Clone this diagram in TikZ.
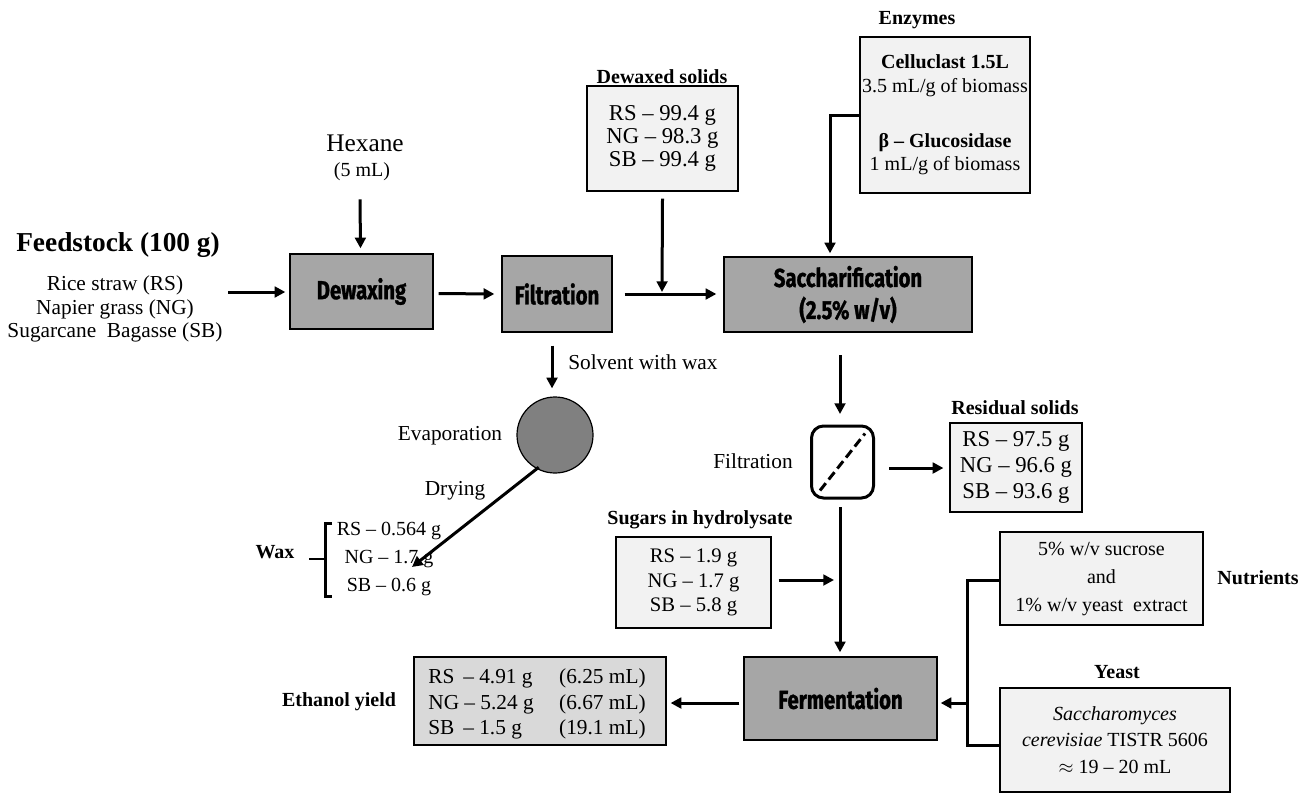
\documentclass[tikz,border=0pt]{standalone}
\usepackage{fontspec}
\setmainfont{Liberation Serif}
\newfontfamily\procfont[FakeStretch=0.78,FakeBold=1.2]{Fira Sans}
\usetikzlibrary{arrows.meta,calc}
\definecolor{procgray}{HTML}{A6A6A6}
\definecolor{infogray}{HTML}{F2F2F2}
\definecolor{ethgray}{HTML}{D9D9D9}
\definecolor{circgray}{HTML}{808080}
\def\px{0.75pt}
\begin{document}
\begin{tikzpicture}[x=0.75pt,y=-0.75pt,
  proc/.style={draw, line width=1pt, fill=procgray, font=\procfont\bfseries\fontsize{19.5}{24}\selectfont, align=center, inner sep=0pt},
  info/.style={draw, line width=0.9pt, fill=infogray, font=\fontsize{16.5}{17.5}\selectfont, align=center, inner sep=0pt},
  lbl/.style={font=\fontsize{16}{17.5}\selectfont, inner sep=0pt},
  ttl/.style={font=\bfseries\fontsize{15}{17.5}\selectfont, inner sep=0pt},
  arr/.style={line width=2.25pt, -{Triangle[length=8pt,width=8pt]}},
  conn/.style={line width=2.25pt}]
\useasboundingbox (0,0) rectangle (1312,793);

% Feedstock
\node[font=\bfseries\fontsize{20.5}{24}\selectfont, inner sep=0pt] (feedt) at (118,245) {Feedstock (100 g)};
\node[lbl, font=\fontsize{16}{17.5}\selectfont, align=center] (feed) at (115,309) {Rice straw (RS)\\Napier grass (NG)\\Sugarcane\ \ Bagasse (SB)};

% Hexane
\node[font=\fontsize{19}{22}\selectfont, inner sep=0pt] (hex) at (365,143) {Hexane};
\node[lbl, font=\fontsize{15}{17.5}\selectfont] (hexv) at (362,172) {(5 mL)};

% process boxes
\node[proc, minimum width=143*\px, minimum height=75*\px] (dewax) at (361.5,291.5) {Dewaxing};
\node[proc, minimum width=110*\px, minimum height=76*\px] (filt) at (557,294) {Filtration};
\node[proc, minimum width=248*\px, minimum height=75*\px] (sacch) at (848,294.5) {Saccharification\\(2.5\% w/v)};
\node[proc, minimum width=193*\px, minimum height=83*\px] (ferm) at (840.5,698.5) {Fermentation};

% Dewaxed solids
\node[ttl] (dwt) at (662,77) {Dewaxed solids};
\node[info, font=\fontsize{17}{17.5}\selectfont, minimum width=151*\px, minimum height=105*\px] (dw) at (662.5,138.5) {RS -- 99.4 g\\NG -- 98.3 g\\SB -- 99.4 g};

% Enzymes
\node[ttl] (enzt) at (917,20) {Enzymes};
\node[info, font=\fontsize{15}{17.5}\selectfont, minimum width=170*\px, minimum height=156*\px] (enz) at (945,115) {\textbf{Celluclast 1.5L}\\3.5 mL/g of biomass\\[24pt]\textbf{β -- Glucosidase}\\1 mL/g of biomass};

% filter symbol
\node[draw, line width=2.25pt, rounded corners=9pt, minimum width=62*\px, minimum height=72*\px, inner sep=0pt] (fsym) at (842.5,462) {};
\draw[line width=2.25pt, dash pattern=on 7pt off 3.5pt] ($(fsym.south west)+(10,-9)$) -- ($(fsym.north east)+(-10,9)$);
\node[lbl] (filtl) at (753,461) {Filtration};

% Residual solids
\node[ttl] (rest) at (1015,408) {Residual solids};
\node[info, font=\fontsize{17}{19.5}\selectfont, minimum width=132*\px, minimum height=89*\px] (res) at (1016,467.5) {RS -- 97.5 g\\NG -- 96.6 g\\SB -- 93.6 g};

% Sugars
\node[ttl] (sugt) at (700,520) {Sugars in hydrolysate};
\node[info, font=\fontsize{15.5}{18.5}\selectfont, minimum width=155*\px, minimum height=91*\px] (sug) at (693.5,582.5) {RS -- 1.9 g\\NG -- 1.7 g\\SB -- 5.8 g};

% Nutrients
\node[info, minimum width=203*\px, minimum height=93*\px, font=\fontsize{15}{21}\selectfont] (nut) at (1101.5,578.5) {5\% w/v sucrose\\and\\1\% w/v yeast\ \ extract};
\node[ttl] (nutt) at (1258,578) {Nutrients};

% Yeast
\node[ttl] (yt) at (1117,672) {Yeast};
\node[info, minimum width=230*\px, minimum height=104*\px, font=\fontsize{15}{20}\selectfont] (yeast) at (1115,740) {\textit{Saccharomyces}\\\textit{cerevisiae} TISTR 5606\\$\approx$ 19 -- 20 mL};

% Ethanol
\node[info, fill=ethgray, font=\fontsize{16}{19}\selectfont, minimum width=252*\px, minimum height=88*\px] (eth) at (540,701) {};
\node[font=\fontsize{16}{19}\selectfont, inner sep=0pt] (ethtx) at (537,704) {\begin{tabular}{@{}l@{\hspace{19pt}}l@{}}RS \,-- 4.91 g & (6.25 mL)\\NG -- 5.24 g & (6.67 mL)\\SB \,-- 1.5 g & (19.1 mL)\end{tabular}};
\node[ttl] (etht) at (339,702) {Ethanol yield};

% evaporation
\node[draw, line width=0.9pt, fill=circgray, circle, minimum size=76*\px, inner sep=0pt] (circ) at (555,435) {};
\node[lbl] (evap) at (450,436) {Evaporation};
\node[lbl] (dry) at (455,491) {Drying};
\node[lbl, anchor=west] (solv) at (568,362) {Solvent with wax};

% wax
\node[ttl] (waxt) at (275,552) {Wax};
\node[lbl, font=\fontsize{15}{17.5}\selectfont, align=center] (wax) at (389,559) {RS -- 0.564 g\\[3.5pt]NG -- 1.7 g\\[3.5pt]SB -- 0.6 g};
\coordinate (bm) at (325,559);
\draw[line width=2.25pt] (332,523) -- (325,523) -- (325,596) -- (332,596);
\draw[line width=1.5pt] (309,559) -- (bm);

% connectors
\coordinate (fa) at (228,292);
\draw[arr] (fa) -- ($(dewax.west |- fa)+(-4,0)$);
\draw[arr] ($(dewax.east)+(5,2)$) -- ($(filt.west)+(-7,0)$);
\draw[arr] ($(hexv.south)+(-2,18)$) -- ($(dewax.north)+(-1,-5)$);
\coordinate (dwj) at (662,294);
\draw[conn] ($(filt.east)+(12,0)$) -- (dwj);
\draw[arr] (dwj) -- ($(sacch.west)+(-7,-0.5)$);
\draw[arr] ($(dw.south)+(0,7)$) -- ($(dwj)+(0,-2)$);
\coordinate (ez1) at (830,115);
\draw[arr] (enz.west |- ez1) -- (ez1) -- ($(sacch.north -| ez1)+(0,-3)$);
\draw[arr] ($(filt.south)+(-5,13)$) -- ($(circ.north)+(-3,-8)$);
\draw[arr] ($(circ.south west)+(11,5)$) -- (412,567);
\draw[arr] (840,355) -- (840,414);
\draw[arr] ($(fsym.east)+(14,6)$) -- ($(res.west)+(-6,0.5)$);
\draw[arr] (840,507) -- ($(ferm.north -| 840,0)+(0,-4)$);
\coordinate (sj) at (834,580);
\draw[arr] ($(sug.east)+(7,-2.5)$) -- (sj);
\coordinate (ny) at (967,580);
\coordinate (yy) at (967,745);
\draw[conn] (nut.west |- ny) -- (ny) -- (yy) -- (yeast.west |- yy);
\draw[arr] (967,703) -- ($(ferm.east)+(3,4.5)$);
\draw[arr] ($(ferm.west)+(-4,4.5)$) -- ($(eth.east)+(4,2)$);
\end{tikzpicture}
\end{document}
